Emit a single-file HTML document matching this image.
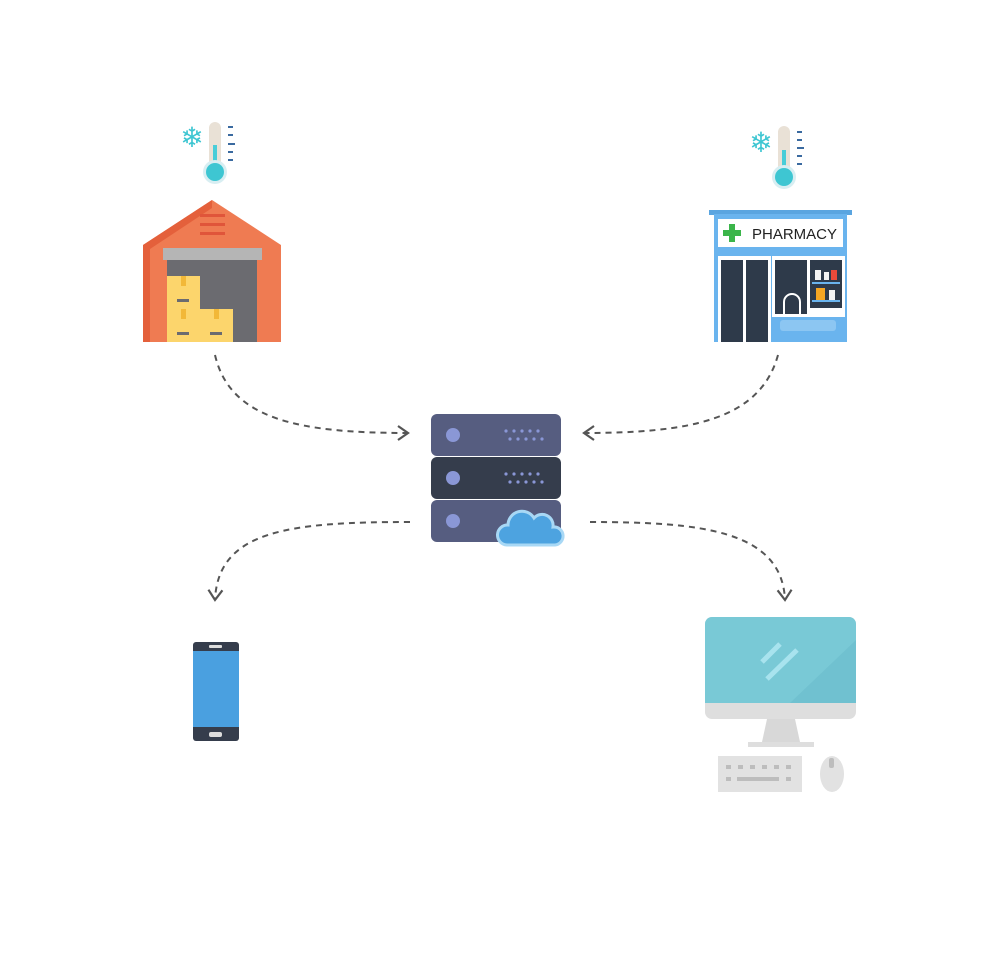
<!DOCTYPE html>
<html><head><style>html,body{margin:0;padding:0;background:#fff}svg{display:block}</style></head>
<body>
<svg width="1000" height="956" viewBox="0 0 1000 956" xmlns="http://www.w3.org/2000/svg">
<defs>
<marker id="ar" viewBox="0 0 16 16" refX="13" refY="8" markerWidth="16" markerHeight="16" markerUnits="userSpaceOnUse" orient="auto">
<path d="M3,1 L13,8 L3,15" fill="none" stroke="#555" stroke-width="2.2"/>
</marker>
</defs>
<g fill="none" stroke="#555" stroke-width="2" stroke-dasharray="6,5">
<path d="M215,355 C230,420 300,433 408,433" marker-end="url(#ar)"/>
<path d="M778,355 C760,420 690,433 584,433" marker-end="url(#ar)"/>
<path d="M410,522 C290,522 218,530 215,600" marker-end="url(#ar)"/>
<path d="M590,522 C700,522 782,530 785,600" marker-end="url(#ar)"/>
</g>
<!-- thermometer 1 -->
<g>
<rect x="209" y="122" width="12" height="48" rx="6" fill="#e9e1d6"/>
<rect x="213" y="145" width="4" height="20" fill="#49cdd8"/>
<circle cx="215" cy="172" r="12" fill="#d8eef2"/>
<circle cx="215" cy="172" r="9" fill="#3ec6d2"/>
<g stroke="#3a6aa0" stroke-width="2"><line x1="228" y1="127" x2="233" y2="127"/><line x1="228" y1="135" x2="233" y2="135"/><line x1="228" y1="144" x2="235" y2="144"/><line x1="228" y1="152" x2="233" y2="152"/><line x1="228" y1="160" x2="233" y2="160"/></g>
<text x="192" y="147" font-size="28" text-anchor="middle" fill="#3ec6d2" font-family="DejaVu Sans, sans-serif">❄</text>
</g>
<!-- warehouse -->
<polygon points="212,200 281,245 281,342 143,342 143,245" fill="#ef7b52"/>
<polygon points="212,200 143,245 143,342 150,342 150,249 212,208" fill="#e4603b"/>
<g fill="#e0553a"><rect x="200" y="214" width="25" height="3"/><rect x="200" y="223" width="25" height="3"/><rect x="200" y="232" width="25" height="3"/></g>
<rect x="163" y="248" width="99" height="12" fill="#b5b5b5"/>
<rect x="167" y="260" width="90" height="82" fill="#6b6b70"/>
<rect x="167" y="276" width="33" height="66" fill="#fcd56c"/>
<rect x="200" y="309" width="33" height="33" fill="#fcd56c"/>
<g fill="#f2b838"><rect x="181" y="276" width="5" height="10"/><rect x="181" y="309" width="5" height="10"/><rect x="214" y="309" width="5" height="10"/></g>
<g fill="#6b6b70"><rect x="177" y="299" width="12" height="3"/><rect x="177" y="332" width="12" height="3"/><rect x="210" y="332" width="12" height="3"/></g>
<!-- thermometer 2 -->
<g>
<rect x="778" y="126" width="12" height="48" rx="6" fill="#e9e1d6"/>
<rect x="782" y="150" width="4" height="20" fill="#49cdd8"/>
<circle cx="784" cy="177" r="12" fill="#d8eef2"/>
<circle cx="784" cy="177" r="9" fill="#3ec6d2"/>
<g stroke="#3a6aa0" stroke-width="2"><line x1="797" y1="132" x2="802" y2="132"/><line x1="797" y1="140" x2="802" y2="140"/><line x1="797" y1="148" x2="804" y2="148"/><line x1="797" y1="156" x2="802" y2="156"/><line x1="797" y1="164" x2="802" y2="164"/></g>
<text x="761" y="152" font-size="28" text-anchor="middle" fill="#3ec6d2" font-family="DejaVu Sans, sans-serif">❄</text>
</g>
<!-- pharmacy -->
<rect x="709" y="210" width="143" height="5" fill="#5aa5e0"/>
<rect x="714" y="214" width="133" height="128" fill="#6ab4ee"/>
<rect x="718" y="219" width="125" height="28" fill="#fff"/>
<g fill="#3bb54a"><rect x="729" y="224" width="6" height="18"/><rect x="723" y="230" width="18" height="6"/></g>
<text x="752" y="239" font-size="15" fill="#222" font-family="Liberation Sans, sans-serif">PHARMACY</text>
<rect x="718" y="256" width="53" height="86" fill="#fff"/>
<rect x="721" y="260" width="22" height="82" fill="#2e3a4a"/>
<rect x="746" y="260" width="22" height="82" fill="#2e3a4a"/>
<rect x="772" y="256" width="73" height="61" fill="#fff"/>
<rect x="775" y="260" width="32" height="54" fill="#2e3a4a"/>
<rect x="810" y="260" width="32" height="48" fill="#2e3a4a"/>
<path d="M784,314 v-12 a8,8 0 0 1 16,0 v12" fill="none" stroke="#fff" stroke-width="2"/>
<rect x="812" y="282" width="28" height="2" fill="#6ab4ee"/><rect x="812" y="300" width="28" height="2" fill="#6ab4ee"/>
<rect x="815" y="270" width="6" height="10" fill="#f3f3f3"/><rect x="824" y="272" width="5" height="8" fill="#f3f3f3"/><rect x="831" y="270" width="6" height="10" fill="#e94a3a"/>
<rect x="816" y="288" width="9" height="12" fill="#f5a623"/><rect x="829" y="290" width="6" height="10" fill="#f3f3f3"/>
<rect x="780" y="320" width="56" height="11" rx="3" fill="#8cc6f2"/>
<!-- server -->
<rect x="431" y="414" width="130" height="42" rx="6" fill="#565d80"/>
<rect x="431" y="457" width="130" height="42" rx="6" fill="#353d4c"/>
<rect x="431" y="500" width="130" height="42" rx="6" fill="#565d80"/>
<g fill="#8a97d6"><circle cx="453" cy="435" r="7"/><circle cx="453" cy="478" r="7"/><circle cx="453" cy="521" r="7"/></g>
<g fill="#8a97d6">
<circle cx="506" cy="431" r="1.6"/><circle cx="514" cy="431" r="1.6"/><circle cx="522" cy="431" r="1.6"/><circle cx="530" cy="431" r="1.6"/><circle cx="538" cy="431" r="1.6"/>
<circle cx="510" cy="439" r="1.6"/><circle cx="518" cy="439" r="1.6"/><circle cx="526" cy="439" r="1.6"/><circle cx="534" cy="439" r="1.6"/><circle cx="542" cy="439" r="1.6"/>
<circle cx="506" cy="474" r="1.6"/><circle cx="514" cy="474" r="1.6"/><circle cx="522" cy="474" r="1.6"/><circle cx="530" cy="474" r="1.6"/><circle cx="538" cy="474" r="1.6"/>
<circle cx="510" cy="482" r="1.6"/><circle cx="518" cy="482" r="1.6"/><circle cx="526" cy="482" r="1.6"/><circle cx="534" cy="482" r="1.6"/><circle cx="542" cy="482" r="1.6"/>
</g>
<path d="M507,545 a10,10 0 0 1 1,-20 a14,14 0 0 1 26,-7 a11,11 0 0 1 19,9 a9,9 0 0 1 2,18 z" fill="#4da3e0" stroke="#a8d8f5" stroke-width="3"/>
<!-- phone -->
<rect x="193" y="642" width="46" height="99" rx="3" fill="#353d4c"/>
<rect x="193" y="651" width="46" height="76" fill="#4aa0e0"/>
<rect x="209" y="645" width="13" height="3" rx="1" fill="#ddd"/>
<rect x="209" y="732" width="13" height="5" rx="2" fill="#ddd"/>
<!-- monitor -->
<rect x="705" y="617" width="151" height="102" rx="7" fill="#dedede"/>
<path d="M712,617 h137 a7,7 0 0 1 7,7 v79 h-151 v-79 a7,7 0 0 1 7,-7z" fill="#79c9d6"/>
<path d="M790,703 L856,640 V703 Z" fill="#6bbccc" opacity="0.6"/>
<g stroke="#a8e3ee" stroke-width="5"><line x1="762" y1="662" x2="780" y2="644"/><line x1="767" y1="679" x2="797" y2="650"/></g>
<polygon points="767,719 795,719 800,742 762,742" fill="#d8d8d8"/>
<rect x="748" y="742" width="66" height="5" fill="#dedede"/>
<rect x="718" y="756" width="84" height="36" fill="#e2e2e2"/>
<g fill="#bdbdbd"><rect x="726" y="765" width="5" height="4"/><rect x="738" y="765" width="5" height="4"/><rect x="750" y="765" width="5" height="4"/><rect x="762" y="765" width="5" height="4"/><rect x="774" y="765" width="5" height="4"/><rect x="786" y="765" width="5" height="4"/>
<rect x="726" y="777" width="5" height="4"/><rect x="737" y="777" width="42" height="4"/><rect x="786" y="777" width="5" height="4"/></g>
<ellipse cx="832" cy="774" rx="12" ry="18" fill="#e2e2e2"/>
<rect x="829" y="758" width="5" height="10" rx="2" fill="#bdbdbd"/>
</svg>
</body></html>
